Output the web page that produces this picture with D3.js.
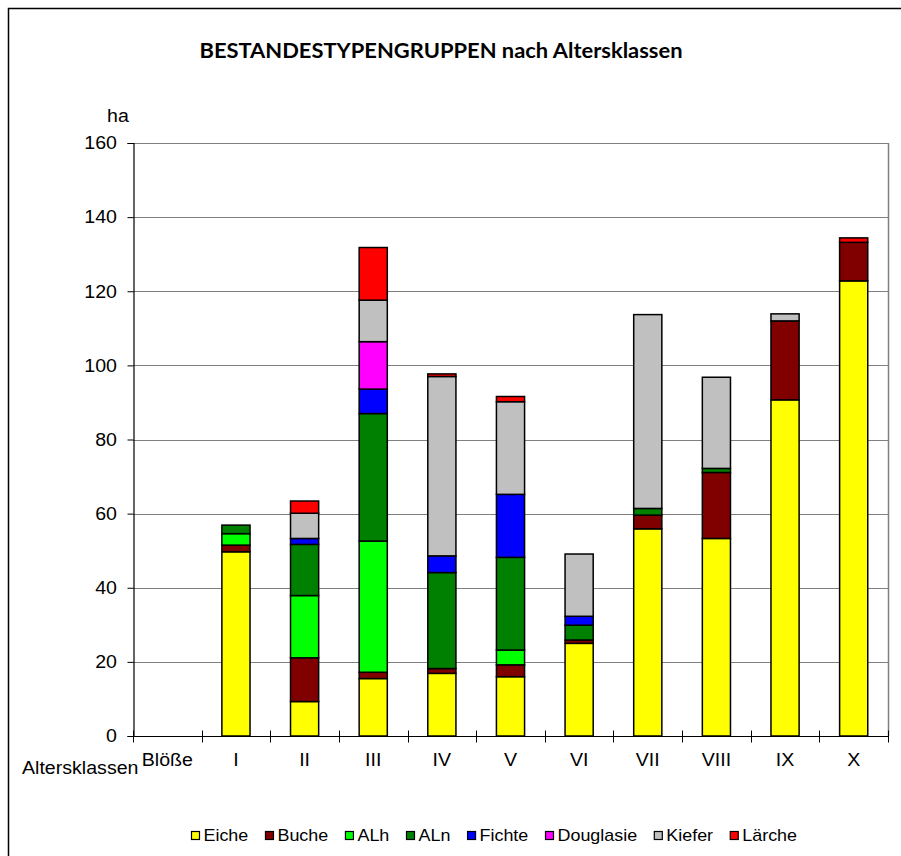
<!DOCTYPE html>
<html>
<head>
<meta charset="utf-8">
<script src="https://cdn.jsdelivr.net/npm/d3@7"></script>
<style>
  html, body { margin: 0; padding: 0; background: #fff; }
  svg { display: block; }
  text { font-family: "Liberation Sans", Arimo, Arial, sans-serif; fill: #000; }
</style>
</head>
<body>
<svg id="chart" width="901" height="856"></svg>
<script>
// Age classes (Altersklassen)
const categories = ["Blöße", "I", "II", "III", "IV", "V", "VI", "VII", "VIII", "IX", "X"];

// Area in ha per stand-type group
const eiche     = [0, 49.7,  9.3, 15.5, 16.9, 16.0, 25.0, 55.9, 53.3, 90.7, 122.8];
const buche     = [0,  1.8, 11.8,  1.7,  1.3,  3.2,  0.9,  3.7, 17.8, 21.3,  10.4];
const alh       = [0,  3.1, 16.8, 35.4,  0,    4.0,  0,    0,    0,    0,     0  ];
const aln       = [0,  2.3, 13.8, 34.4, 25.9, 25.0,  4.0,  1.8,  1.1,  0,     0  ];
const fichte    = [0,  0,    1.6,  6.6,  4.5, 17.0,  2.4,  0,    0,    0,     0  ];
const douglasie = [0,  0,    0,   12.8,  0,    0,    0,    0,    0,    0,     0  ];
const kiefer    = [0,  0,    6.8, 11.2, 48.4, 25.0, 16.8, 52.3, 24.6,  1.9,   0  ];
const laerche   = [0,  0,    3.3, 14.2,  0.7,  1.4,  0,    0,    0,    0,     1.2];

const seriesNames = ["Eiche", "Buche", "ALh", "ALn", "Fichte", "Douglasie", "Kiefer", "Lärche"];
const seriesValues = [eiche, buche, alh, aln, fichte, douglasie, kiefer, laerche];
const seriesColors = ["#FFFF00", "#800000", "#00FF00", "#008000", "#0000FF", "#FF00FF", "#C0C0C0", "#FF0000"];

const yTicks = [0, 20, 40, 60, 80, 100, 120, 140, 160];

const rows = categories.map((c, i) => {
  const r = { cat: c };
  seriesNames.forEach((s, k) => r[s] = seriesValues[k][i]);
  return r;
});

const svg = d3.select("#chart");
const plot = { left: 133, right: 888, top: 143, bottom: 736 };
const SX = 1.12; // horizontal widening of the label font

// text placed at (x, y) with a slightly widened font
function label(parent, x, y, str, size, anchor) {
  return parent.append("text")
    .attr("transform", `translate(${x},${y}) scale(${SX},1)`)
    .attr("text-anchor", anchor || "start")
    .style("font-size", size + "px")
    .text(str);
}

// outer frame
svg.append("rect")
  .attr("x", 8.5).attr("y", 8.5)
  .attr("width", 1000).attr("height", 1000)
  .attr("fill", "none").attr("stroke", "#000").attr("stroke-width", 1.5);

// title
svg.append("text")
  .attr("x", 441).attr("y", 57.5)
  .attr("text-anchor", "middle")
  .style("font-family", "Lato, 'Open Sans', sans-serif")
  .style("font-weight", "bold")
  .style("font-size", "20px")
  .attr("textLength", 483).attr("lengthAdjust", "spacingAndGlyphs")
  .text("BESTANDESTYPENGRUPPEN nach Altersklassen");

const x = d3.scaleBand().domain(categories).range([plot.left, plot.right]).padding(0);
const y = d3.scaleLinear().domain([0, 160]).range([plot.bottom, plot.top]);

// gridlines
svg.append("g")
  .selectAll("line")
  .data(yTicks.filter(t => t > 0))
  .join("line")
  .attr("x1", plot.left).attr("x2", plot.right)
  .attr("y1", d => Math.round(y(d)) + 0.5).attr("y2", d => Math.round(y(d)) + 0.5)
  .attr("stroke", "#808080").attr("stroke-width", 1.2);

// right border of plot area
svg.append("line")
  .attr("x1", plot.right + 0.5).attr("x2", plot.right + 0.5)
  .attr("y1", plot.top).attr("y2", plot.bottom)
  .attr("stroke", "#808080").attr("stroke-width", 1.5);

// stacked bars
const stack = d3.stack().keys(seriesNames)(rows);
const bw = x.bandwidth() * 0.41;
svg.append("g")
  .selectAll("g")
  .data(stack)
  .join("g")
  .attr("fill", (d, i) => seriesColors[i])
  .selectAll("rect")
  .data(d => d.filter(s => s[1] - s[0] > 0))
  .join("rect")
  .attr("x", d => x(d.data.cat) + (x.bandwidth() - bw) / 2)
  .attr("y", d => y(d[1]))
  .attr("width", bw)
  .attr("height", d => y(d[0]) - y(d[1]))
  .attr("stroke", "#000").attr("stroke-width", 1.5);

// y axis (line and ticks from d3, labels widened)
const yAxis = d3.axisLeft(y).tickValues(yTicks).tickSize(6).tickFormat(() => "");
const gy = svg.append("g").attr("transform", `translate(${plot.left + 0.5},0)`).call(yAxis);
gy.select(".domain").attr("stroke", "#000").attr("stroke-width", 1.2);
gy.selectAll(".tick line").attr("stroke", "#000");
const gyl = svg.append("g");
yTicks.forEach(t => label(gyl, 117, y(t) + 6.3, d3.format("d")(t), 17.5, "end"));

// x axis with ticks at category boundaries
const gx = svg.append("g").attr("transform", `translate(0,${plot.bottom + 0.5})`);
gx.append("line")
  .attr("x1", plot.left).attr("x2", plot.right + 1)
  .attr("stroke", "#000").attr("stroke-width", 1.2);
const bounds = categories.map(c => x(c)).concat([plot.right]);
gx.selectAll("line.tk")
  .data(bounds)
  .join("line").attr("class", "tk")
  .attr("x1", d => Math.round(d) + 0.5).attr("x2", d => Math.round(d) + 0.5)
  .attr("y1", -6).attr("y2", 6)
  .attr("stroke", "#000").attr("stroke-width", 1);
categories.forEach(c => label(gx, x(c) + x.bandwidth() / 2, 29.5, c, 17.5, "middle"));

// axis titles
label(svg, 118, 122, "ha", 17.5, "middle");
label(svg, 22, 773.5, "Altersklassen", 17.5, "start");

// legend, spread between x = 191 and x = 797
const legend = svg.append("g");
const items = seriesNames.map((s, i) => {
  const g = legend.append("g");
  g.append("rect").attr("x", 0.5).attr("y", 831.5).attr("width", 8).attr("height", 8)
    .attr("fill", seriesColors[i]).attr("stroke", "#000").attr("stroke-width", 1.2);
  const t = label(g, 12.5, 841, s, 16, "start");
  const w = 12.5 + t.node().getComputedTextLength() * SX;
  return { g, w };
});
const total = d3.sum(items, d => d.w);
const gap = (797 - 191 - total) / (items.length - 1);
let lx = 191;
items.forEach(it => { it.g.attr("transform", `translate(${lx},0)`); lx += it.w + gap; });
</script>
</body>
</html>
